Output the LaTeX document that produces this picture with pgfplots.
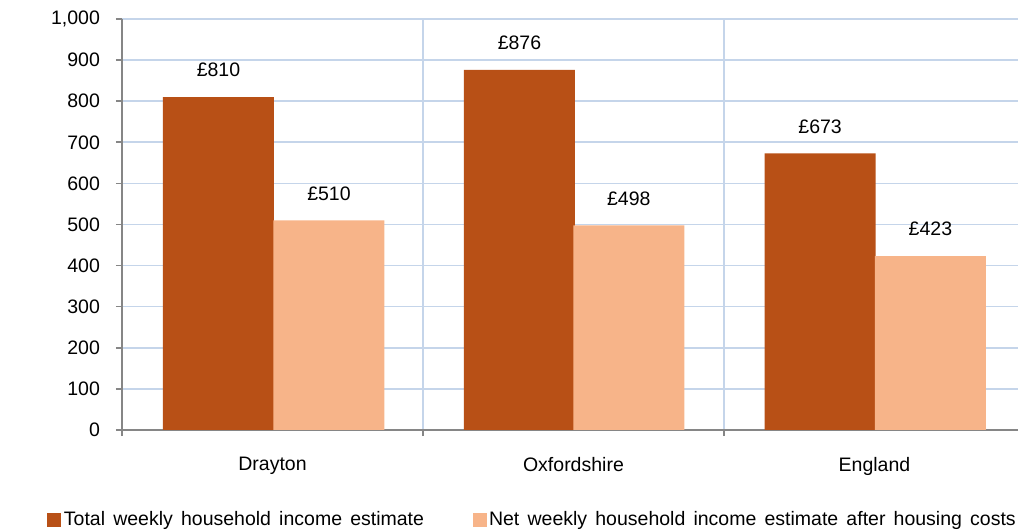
\documentclass[border=0pt]{standalone}
\usepackage{fontspec}
\setmainfont{Liberation Sans}
\usepackage{pgfplots}
\pgfplotsset{compat=1.18}
\definecolor{darkbar}{RGB}{184,80,22}
\definecolor{lightbar}{RGB}{247,180,137}
\definecolor{gridc}{RGB}{197,213,234}
\definecolor{axc}{RGB}{134,134,134}
\newcommand{\ws}{\hspace{4.1pt}}
\begin{document}
\begin{tikzpicture}[font=\fontsize{9.75}{11.7}\selectfont]
\begin{axis}[name=ax,
  scale only axis, width=448pt, height=205.5pt,
  xmin=0, xmax=2.977, ymin=0, ymax=1000,
  axis x line*=bottom, axis y line*=left,
  axis line style={axc, line width=0.8pt},
  tick align=outside, major tick length=3pt,
  tick style={axc, line width=0.8pt},
  tick label style={font=\fontsize{9.75}{11.7}\selectfont},
  ytick={0,100,...,1000},
  ymajorgrids, xmajorgrids,
  grid style={gridc, line width=0.8pt},
  xtick={0,1,2}, xticklabels={},
  extra x ticks={0.5,1.5,2.5},
  extra x tick labels={Drayton,Oxfordshire,England},
  extra x tick style={major tick length=0pt, grid=none, xticklabel style={yshift=-10pt}},
  /pgf/number format/assume math mode=true,
  yticklabel style={/pgf/number format/1000 sep={,}, xshift=-4.5pt},
  ybar, bar width=0.3688, bar shift=0pt,
  nodes near coords={£\pgfmathprintnumber{\pgfplotspointmeta}},
  every node near coord/.append style={anchor=center, yshift=13.5pt, text=black},
  legend columns=2,
  legend image code/.code={\fill[#1] (0pt,-3.5pt) rectangle (7pt,3.5pt);},
  legend style={at={(axis description cs:-0.0837,-0.219)}, anchor=west,
    draw=none, fill=none, inner sep=0pt,
    nodes={inner sep=1.25pt},
    /tikz/every even column/.append style={column sep=23pt}},
]
\addplot[fill=darkbar, draw=none] coordinates {(0.3206,810) (1.3206,876) (2.3196,673)};
\addlegendentry{Total\ws weekly\ws household\ws income\ws estimate}
\addplot[fill=lightbar, draw=none] coordinates {(0.6877,510) (1.684,498) (2.686,423)};
\addlegendentry{Net\ws weekly\ws household\ws income\ws estimate\ws after\ws housing\ws costs}
\node at (axis description cs:-0.107,0.572) {(£)};
\end{axis}
\pgfresetboundingbox
\path ([xshift=-61pt,yshift=-50pt]ax.south west) rectangle ([yshift=9.5pt]ax.north east);
\end{tikzpicture}
\end{document}
